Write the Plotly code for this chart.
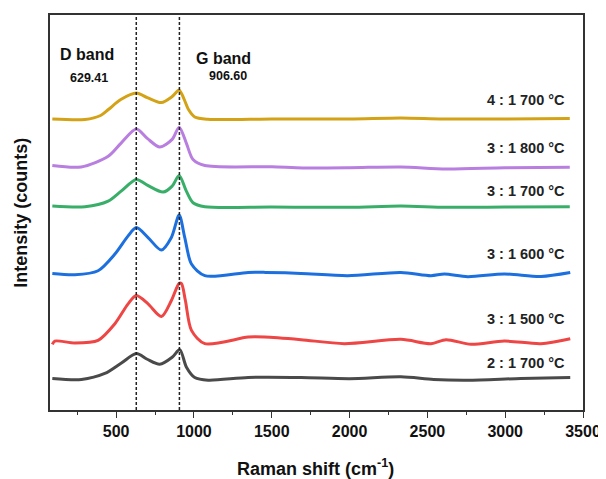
import plotly.graph_objects as go

# Raman spectra (stacked, arbitrary intensity units as displayed)
x_41700 = [90, 300, 400, 450, 530, 630, 700, 790, 860, 905, 935, 965, 1005, 1090, 1500, 2000, 2330, 2600, 3000, 3415]
y_41700 = [292.5, 292, 296, 302, 312, 318.5, 314, 309, 315, 321.5, 313, 302, 294.5, 292.2, 292.5, 292.5, 293.5, 292.5, 292.5, 293]

x_31800 = [90, 275, 449, 532, 630, 700, 780, 860, 905, 951, 994, 1070, 1500, 1700, 2000, 2330, 2620, 3000, 3415]
y_31800 = [245.7, 244.3, 255, 268.3, 282.3, 273, 264.3, 272, 284.3, 268.3, 251.7, 245.7, 244.5, 243.3, 243.5, 244.3, 242.3, 243.5, 244]

x_31700 = [90, 300, 449, 532, 630, 700, 802, 860, 905, 951, 994, 1070, 1500, 2000, 2330, 2620, 3000, 3415]
y_31700 = [205, 204.3, 210, 220, 231.7, 226, 219, 225, 235.7, 220, 208.3, 204.3, 204, 203.7, 205, 203.7, 204, 204.3]

x_31600 = [90, 235, 384, 492, 577, 630, 705, 791, 855, 905, 941, 984, 1070, 1348, 1460, 1688, 1988, 2330, 2523, 2609, 2759, 2994, 3230, 3418]
y_31600 = [137.3, 136, 140, 156.7, 175, 183.3, 173.3, 160.7, 173.3, 196, 173.3, 146.7, 135, 138.3, 138.3, 137.3, 135, 138.3, 135, 136.7, 134, 136.7, 134.3, 138.3]

x_31500 = [90, 106, 235, 384, 492, 577, 630, 705, 791, 855, 905, 920, 945, 984, 1070, 1348, 1455, 1688, 1966, 2330, 2523, 2620, 2780, 2994, 3230, 3418]
y_31500 = [66, 69.3, 67.3, 70, 86.7, 106.7, 115, 106.7, 94, 110, 127.3, 127, 110, 80, 66.7, 73.3, 73.3, 70.7, 66.7, 71, 66.7, 70.7, 66, 69.3, 66.7, 71.7]

x_21700 = [90, 277, 427, 534, 630, 700, 780, 860, 909, 951, 1005, 1091, 1348, 1688, 2000, 2330, 2540, 2759, 3100, 3418]
y_21700 = [31.7, 30.7, 36.7, 47.3, 56.7, 51, 46, 53, 60.7, 43.3, 32.7, 30, 32.7, 32.7, 31.5, 33.3, 30.7, 30, 31.7, 32.7]

series_names = ["4 : 1 700 °C", "3 : 1 800 °C", "3 : 1 700 °C", "3 : 1 600 °C", "3 : 1 500 °C", "2 : 1 700 °C"]
series_x = [x_41700, x_31800, x_31700, x_31600, x_31500, x_21700]
series_y = [y_41700, y_31800, y_31700, y_31600, y_31500, y_21700]
colors = ["#D4A216", "#B87EE0", "#38AE68", "#1C6FDF", "#EE4545", "#4A4A4A"]
label_y = [312, 263, 220, 157, 91, 47]

tick_vals = [500, 1000, 1500, 2000, 2500, 3000, 3500]
minor_vals = [250, 750, 1250, 1750, 2250, 2750, 3250]

d_band = 629.41
g_band = 906.60

FONT = "Liberation Sans, Arial"

fig = go.Figure()
for nm, xs, ys, c in zip(series_names, series_x, series_y, colors):
    fig.add_trace(go.Scatter(x=xs, y=ys, mode="lines", name=nm,
                             line=dict(color=c, width=3, shape="spline", smoothing=0.8),
                             showlegend=False))

for nm, ly in zip(series_names, label_y):
    fig.add_annotation(x=3395, y=ly, text="<b>%s</b>" % nm, showarrow=False,
                       xanchor="right", yanchor="middle",
                       font=dict(size=14.5, color="#222", family=FONT))

for xv in [d_band, g_band]:
    fig.add_shape(type="line", x0=xv, x1=xv, y0=0, y1=1, xref="x", yref="paper",
                  line=dict(color="#222", width=1.5, dash="3px,2px"))

fig.add_annotation(x=310, y=357, text="<b>D band</b>", showarrow=False,
                   font=dict(size=16, color="#111", family=FONT))
fig.add_annotation(x=326, y=334, text="<b>%.2f</b>" % d_band, showarrow=False,
                   font=dict(size=12.5, color="#111", family=FONT))
fig.add_annotation(x=1188, y=353, text="<b>G band</b>", showarrow=False,
                   font=dict(size=16, color="#111", family=FONT))
fig.add_annotation(x=1217, y=336, text="<b>%.2f</b>" % g_band, showarrow=False,
                   font=dict(size=12.5, color="#111", family=FONT))

fig.add_annotation(x=-0.056, y=0.5, xref="paper", yref="paper", text="<b>Intensity (counts)</b>",
                   textangle=-90, showarrow=False, xanchor="center", yanchor="middle",
                   font=dict(size=18, color="#111", family=FONT))
fig.add_annotation(x=0.499, y=-0.146, xref="paper", yref="paper", yanchor="middle",
                   text="<b>Raman shift (cm<sup>-1</sup>)</b>", showarrow=False,
                   font=dict(size=18, color="#111", family=FONT))

fig.update_xaxes(range=[75, 3500], tickvals=tick_vals,
                 ticktext=["<b>%d</b>" % v for v in tick_vals],
                 ticks="outside", ticklen=6, tickwidth=1.3, tickcolor="#333",
                 minor=dict(tickvals=minor_vals, ticks="outside",
                            ticklen=3, tickwidth=1, tickcolor="#333"),
                 showline=True, linecolor="#333", linewidth=1.6, mirror=True,
                 showgrid=False, zeroline=False,
                 tickfont=dict(size=16, color="#111", family=FONT))
fig.update_yaxes(range=[0, 397], showticklabels=False, ticks="",
                 showline=True, linecolor="#333", linewidth=1.6, mirror=True,
                 showgrid=False, zeroline=False)

# page body has an 8px margin: size the figure so the plot area lands where the reference has it
fig.update_layout(width=598, height=471, margin=dict(l=42, r=19, t=5, b=69),
                  plot_bgcolor="white", paper_bgcolor="white")

fig.write_html("out.html")
